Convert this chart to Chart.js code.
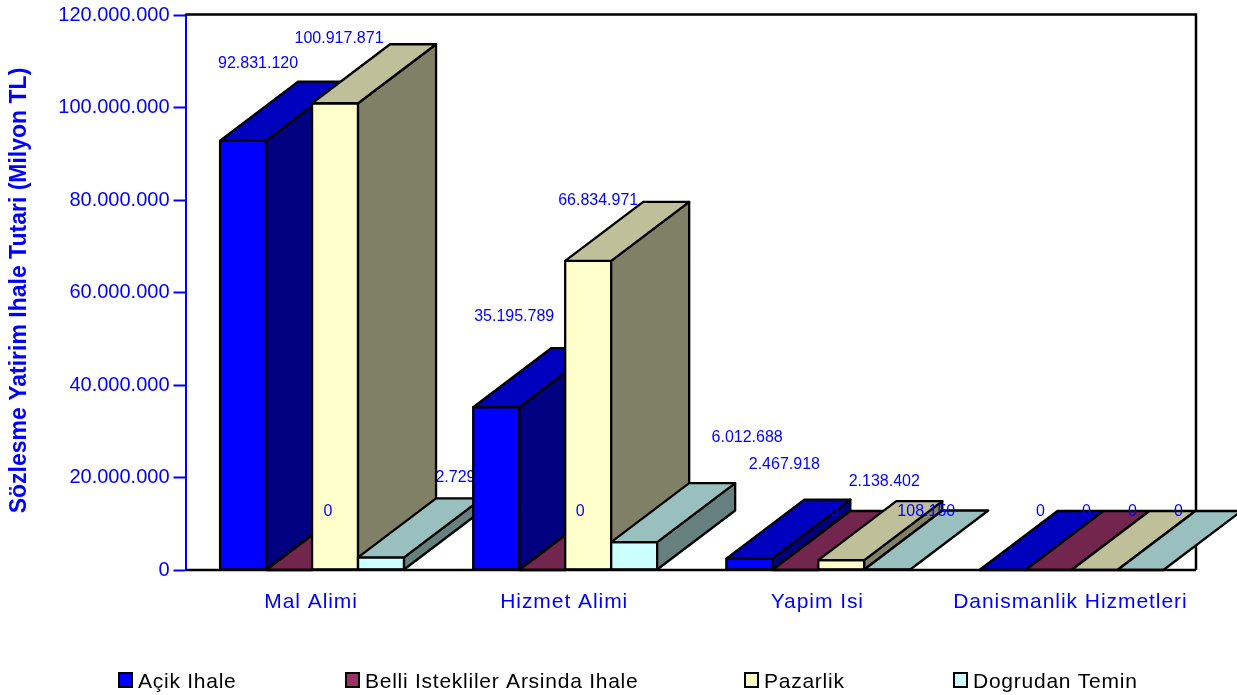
<!DOCTYPE html>
<html>
<head>
<meta charset="utf-8">
<title>Sözlesme Yatirim Ihale Tutari</title>
<script src="https://cdn.jsdelivr.net/npm/chart.js@4/dist/chart.umd.min.js"></script>
<style>
html, body { margin: 0; padding: 0; background: #fff; }
canvas { display: block; }
</style>
</head>
<body>
<canvas id="myChart" width="1237" height="695"></canvas>
<script>
// Chart data
var categories = ['Mal Alimi', 'Hizmet Alimi', 'Yapim Isi', 'Danismanlik Hizmetleri'];
var seriesNames = ['Açik Ihale', 'Belli Istekliler Arsinda Ihale', 'Pazarlik', 'Dogrudan Temin'];
var acikIhale = [92831120, 35195789, 2467918, 0];
var belliIstekliler = [0, 0, 0, 0];
var pazarlik = [100917871, 66834971, 2138402, 0];
var dogrudanTemin = [2729000, 6012688, 108150, 0];
var yTickLabels = ['0', '20.000.000', '40.000.000', '60.000.000', '80.000.000', '100.000.000', '120.000.000'];

// Colours per series: front, top, side
var frontColors = ['#0000ff', '#993366', '#ffffcc', '#ccffff'];
var topColors = ['#0000bf', '#73264d', '#bfbf99', '#99bfbf'];
var sideColors = ['#000080', '#4d1a33', '#808066', '#668080'];

// Hand placed value labels, offset from the bar top centre [x, y]
var labelOffsets = [
    [[15, -78], [18, -92], [35, -95], [38, -59]],
    [[39, -59], [38, -59], [39, -59], [38, -59]],
    [[4, -66], [10, -61], [43, -80], [38, -59]],
    [[90, -81], [113, -106], [39, -59], [38, -59]]
];

var BLUE = '#0000ff';
var FONT = '"Liberation Sans", Arial, sans-serif';
var DEPTH_X = 78;
var DEPTH_Y = -59;
var FRAME_RIGHT = 1196;
var legendX = [119, 346, 745, 954];

function formatValue(v) {
    return String(v).replace(/\B(?=(\d{3})+(?!\d))/g, '.');
}

function poly(ctx, pts, fill) {
    ctx.beginPath();
    ctx.moveTo(pts[0][0], pts[0][1]);
    for (var i = 1; i < pts.length; i++) {
        ctx.lineTo(pts[i][0], pts[i][1]);
    }
    ctx.closePath();
    ctx.fillStyle = fill;
    ctx.fill();
    ctx.stroke();
}

function drawBar(ctx, bar, s) {
    var l = bar.x - bar.width / 2;
    var r = bar.x + bar.width / 2;
    var t = bar.y;
    var b = bar.base;
    ctx.strokeStyle = '#000';
    ctx.lineWidth = 2.3;
    ctx.lineJoin = 'round';
    if (b - t > 0.5) {
        poly(ctx, [[l, b], [r, b], [r, t], [l, t]], frontColors[s]);
        poly(ctx, [[r, b], [r + DEPTH_X, b + DEPTH_Y], [r + DEPTH_X, t + DEPTH_Y], [r, t]], sideColors[s]);
    }
    poly(ctx, [[l, t], [r, t], [r + DEPTH_X, t + DEPTH_Y], [l + DEPTH_X, t + DEPTH_Y]], topColors[s]);
}

// Wrap a scale draw method so its text gets wider spacing or a small shift
function wrapText(scale, method, spacing, shiftX, shiftY) {
    var orig = scale[method];
    scale[method] = function(area) {
        var ctx = this.ctx;
        ctx.save();
        ctx.letterSpacing = spacing;
        ctx.translate(shiftX, shiftY);
        orig.call(this, area);
        ctx.restore();
    };
}

// The bars get drawn group by group so later groups cover earlier labels
var bars3d = {
    id: 'bars3d',
    beforeDraw: function(chart) {
        if (!chart.$wrapped) {
            chart.$wrapped = true;
            wrapText(chart.scales.x, 'drawLabels', '0.95px', -1, 0);
            wrapText(chart.scales.y, 'drawTitle', '0px', 1, -2);
        }
    },
    beforeDatasetsDraw: function(chart) {
        var ctx = chart.ctx;
        var area = chart.chartArea;
        ctx.save();
        ctx.strokeStyle = '#000';
        ctx.lineWidth = 2.5;
        ctx.beginPath();
        ctx.moveTo(area.left, area.top - 0.5);
        ctx.lineTo(FRAME_RIGHT, area.top - 0.5);
        ctx.lineTo(FRAME_RIGHT, area.bottom);
        ctx.stroke();

        categories.forEach(function(cat, c) {
            seriesNames.forEach(function(name, s) {
                drawBar(ctx, chart.getDatasetMeta(s).data[c], s);
            });
            ctx.font = '16px ' + FONT;
            ctx.fillStyle = BLUE;
            ctx.textAlign = 'center';
            ctx.textBaseline = 'middle';
            seriesNames.forEach(function(name, s) {
                var bar = chart.getDatasetMeta(s).data[c];
                var off = labelOffsets[s][c];
                ctx.fillText(formatValue(chart.data.datasets[s].data[c]), bar.x + off[0], bar.y + off[1] + 1);
            });
        });

        ctx.strokeStyle = '#000';
        ctx.lineWidth = 2.5;
        ctx.beginPath();
        ctx.moveTo(area.left, area.bottom);
        ctx.lineTo(FRAME_RIGHT, area.bottom);
        ctx.stroke();
        ctx.restore();
        return false;
    },
    afterDraw: function(chart) {
        var ctx = chart.ctx;
        ctx.save();
        ctx.font = '21px ' + FONT;
        ctx.letterSpacing = '0.75px';
        ctx.textAlign = 'left';
        ctx.textBaseline = 'middle';
        seriesNames.forEach(function(name, s) {
            ctx.fillStyle = frontColors[s];
            ctx.strokeStyle = '#000';
            ctx.lineWidth = 2;
            ctx.fillRect(legendX[s], 673, 13, 14);
            ctx.strokeRect(legendX[s], 673, 13, 14);
            ctx.fillStyle = '#000';
            ctx.fillText(name, legendX[s] + 19, 682);
        });
        ctx.restore();
    }
};

function renderChart() {
    var ctx = document.getElementById('myChart').getContext('2d');
    var values = [acikIhale, belliIstekliler, pazarlik, dogrudanTemin];
    new Chart(ctx, {
        type: 'bar',
        data: {
            labels: categories,
            datasets: seriesNames.map(function(name, s) {
                return {
                    label: name,
                    data: values[s],
                    backgroundColor: frontColors[s],
                    borderColor: '#000',
                    borderWidth: 2
                };
            })
        },
        plugins: [bars3d],
        options: {
            responsive: false,
            animation: false,
            layout: { padding: { top: 15, right: 39 } },
            plugins: {
                legend: { display: false },
                tooltip: { enabled: false }
            },
            datasets: {
                bar: { barPercentage: 1, categoryPercentage: 0.7267 }
            },
            scales: {
                x: {
                    afterFit: function(scale) {
                        scale.height = 125;
                        scale.paddingLeft = 0;
                        scale.paddingRight = 0;
                    },
                    grid: { display: false },
                    border: { display: false },
                    ticks: {
                        color: BLUE,
                        font: { family: FONT, size: 21 },
                        padding: 12,
                        maxRotation: 0,
                        autoSkip: false
                    }
                },
                y: {
                    min: 0,
                    max: 120000000,
                    afterFit: function(scale) {
                        scale.width = 185.5;
                        scale.paddingTop = 0;
                        scale.paddingBottom = 0;
                    },
                    border: { color: BLUE, width: 2 },
                    grid: { drawOnChartArea: false, color: BLUE, tickColor: BLUE, tickLength: 12, tickWidth: 2 },
                    title: {
                        display: true,
                        text: 'Sözlesme Yatirim Ihale Tutari (Milyon TL)',
                        color: BLUE,
                        font: { family: FONT, size: 23, weight: 'bold' },
                        padding: { top: 5, bottom: 0 }
                    },
                    ticks: {
                        color: BLUE,
                        font: { family: FONT, size: 20 },
                        stepSize: 20000000,
                        padding: 4,
                        callback: function(value, index) { return yTickLabels[index]; }
                    }
                }
            }
        }
    });
}
window.onload = renderChart;
</script>
</body>
</html>
